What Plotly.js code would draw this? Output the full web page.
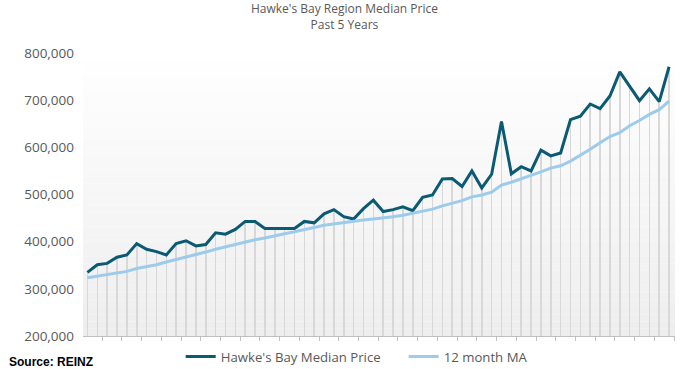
<!DOCTYPE html>
<html>
<head>
<meta charset="utf-8">
<script src="https://cdn.plot.ly/plotly-3.0.1.min.js"></script>
<style>html,body{margin:0;padding:0;background:#fff;}#chart{width:689px;height:369px;}</style>
</head>
<body>
<div id="chart"></div>
<script>
var months = ["Apr-16","May-16","Jun-16","Jul-16","Aug-16","Sep-16","Oct-16","Nov-16","Dec-16","Jan-17","Feb-17","Mar-17",
"Apr-17","May-17","Jun-17","Jul-17","Aug-17","Sep-17","Oct-17","Nov-17","Dec-17","Jan-18","Feb-18","Mar-18",
"Apr-18","May-18","Jun-18","Jul-18","Aug-18","Sep-18","Oct-18","Nov-18","Dec-18","Jan-19","Feb-19","Mar-19",
"Apr-19","May-19","Jun-19","Jul-19","Aug-19","Sep-19","Oct-19","Nov-19","Dec-19","Jan-20","Feb-20","Mar-20",
"Apr-20","May-20","Jun-20","Jul-20","Aug-20","Sep-20","Oct-20","Nov-20","Dec-20","Jan-21","Feb-21","Mar-21"];

var medianPrice = [335000,351000,354000,367000,372000,396000,384000,379000,372000,396000,402000,391000,
394000,419000,416000,426000,443000,443000,428000,428000,428000,428000,443000,440000,
459000,468000,453000,448000,470000,488000,464000,468000,474000,466000,494000,499000,
533000,534000,517000,550000,514000,543000,655000,544000,559000,550000,594000,582000,
588000,659000,666000,692000,682000,709000,760000,730000,699000,724000,697000,771000];

var movingAvg = [323500,327000,330000,333000,337000,343000,347000,351000,357000,362000,367000,373000,
378000,384000,389000,395000,400000,404000,408000,413000,417000,421000,425000,430000,
435000,438000,441000,443000,446000,448000,450000,453000,456000,460000,464000,469000,
476000,481000,487000,495000,499000,505000,520000,526000,533000,540000,548000,556000,
561000,571000,583000,596000,610000,623000,631000,646000,657000,670000,680000,698000];

var tickVals = [200000,300000,400000,500000,600000,700000,800000];
var tickText = ["200,000","300,000","400,000","500,000","600,000","700,000","800,000"];

// background gradient bands
var shapes = [];
var bands = 40;
for (var i = 0; i < bands; i++) {
  var t = i / (bands - 1);
  var c = Math.round(255 - t * 17);
  shapes.push({type:'rect', xref:'paper', yref:'paper', x0:0, x1:1,
    y0: 1 - (i + 1) / bands, y1: 1 - i / bands,
    fillcolor: 'rgb(' + c + ',' + c + ',' + c + ')', line:{width:0}, layer:'below'});
}

var traces = [
  {type:'bar', x: months, y: medianPrice, width: 0.16,
   marker:{color:'#d8d8d8', line:{width:0}}, showlegend:false, hoverinfo:'skip'},
  {type:'scatter', mode:'lines', name:"Hawke's Bay Median Price", x: months, y: medianPrice,
   line:{color:'#0b5a74', width:3}},
  {type:'scatter', mode:'lines', name:'12 month MA', x: months, y: movingAvg,
   line:{color:'#9ccbec', width:3}}
];

var layout = {
  width: 689, height: 369,
  margin: {l: 83, r: 14, t: 46, b: 33, autoexpand: false},
  paper_bgcolor: '#ffffff',
  plot_bgcolor: 'rgba(0,0,0,0)',
  font: {family: 'Open Sans, sans-serif', color: '#595959', size: 12},
  shapes: shapes,
  bargap: 0,
  xaxis: {type:'category', showticklabels:false, ticks:'outside', ticklen:4, tickcolor:'#bfbfbf',
          tickson:'boundaries', showline:true, linecolor:'#bfbfbf', linewidth:1, showgrid:false,
          zeroline:false, range:[-0.45, 59.6]},
  yaxis: {range:[200000, 815000], tickvals: tickVals, ticktext: tickText, showgrid:false,
          zeroline:false, showline:false, ticks:'', tickfont:{size:13.5, color:'#595959'},
          ticklabelstandoff: 8},
  legend: {orientation:'h', x: 0.165, xanchor:'left', yref:'container', y: 0.033, yanchor:'middle',
           font:{size:13.2, color:'#595959'}, bgcolor:'rgba(0,0,0,0)', itemwidth:30, tracegroupgap:0,
           entrywidthmode:'pixels', entrywidth:178},
  annotations: [
    {text:"Hawke's Bay Region Median Price<br>Past 5 Years", xref:'paper', yref:'paper',
     x: 0.4417, y: 1.1, xanchor:'center', yanchor:'middle', showarrow:false, align:'center',
     font:{size:12, color:'#595959'}},
    {text:'<b>Source: REINZ</b>', xref:'paper', yref:'paper', x: -0.128, y: -0.088,
     xanchor:'left', yanchor:'middle', showarrow:false,
     font:{family:'Liberation Sans Narrow, Arial Narrow, Liberation Sans, sans-serif', size:12, color:'#000000'}}]
};

Plotly.newPlot('chart', traces, layout, {displayModeBar:false, staticPlot:true});
</script>
</body>
</html>
